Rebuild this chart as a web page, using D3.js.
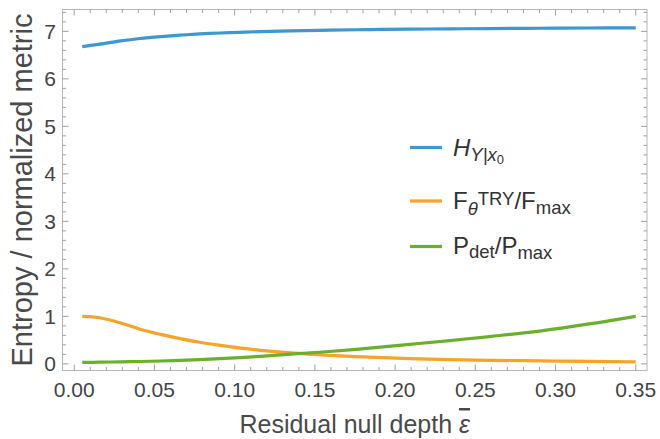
<!DOCTYPE html>
<html>
<head>
<meta charset="utf-8">
<script src="https://cdn.jsdelivr.net/npm/d3@7"></script>
<style>
  body { margin: 0; background: #fff; }
  svg text { font-family: "Liberation Sans", Arial, sans-serif; }
</style>
</head>
<body>
<svg id="chart" width="660" height="439"></svg>
<script>
// residual null depth (x)
const eps = [0.005, 0.016, 0.029, 0.041, 0.054, 0.066, 0.078, 0.091, 0.103, 0.116,
  0.135, 0.159, 0.184, 0.209, 0.234, 0.259, 0.29, 0.321, 0.35];
const entropy = [6.68, 6.73, 6.80, 6.85, 6.89, 6.92, 6.945, 6.965, 6.98, 6.995,
  7.01, 7.025, 7.037, 7.046, 7.053, 7.059, 7.065, 7.07, 7.075];
const fisherRatio = [1.0, 0.97, 0.86, 0.73, 0.62, 0.53, 0.455, 0.39, 0.335, 0.285,
  0.23, 0.18, 0.14, 0.11, 0.09, 0.075, 0.062, 0.051, 0.043];
const pdetRatio = [0.03, 0.035, 0.043, 0.05, 0.06, 0.074, 0.09, 0.11, 0.132, 0.158,
  0.205, 0.26, 0.33, 0.41, 0.49, 0.575, 0.69, 0.84, 1.0];
const xTicks = [0, 0.05, 0.1, 0.15, 0.2, 0.25, 0.3, 0.35];
const yTicks = [0, 1, 2, 3, 4, 5, 6, 7];

const width = 660, height = 439;
const margin = { top: 9.5, right: 13, bottom: 68.5, left: 62.5 };
const colors = { blue: '#3d97d1', orange: '#f6a42a', green: '#6bb02d' };

const svg = d3.select('#chart');

const x = d3.scaleLinear()
  .domain([-0.0073, 0.357])
  .range([margin.left, width - margin.right]);
const y = d3.scaleLinear()
  .domain([-0.14, 7.46])
  .range([height - margin.bottom, margin.top]);

const tickCol = '#a0a0a0';
const x0 = margin.left, x1 = width - margin.right;
const y0 = height - margin.bottom, y1 = margin.top;

// minor tick values
const xMinor = d3.range(0, 0.3501, 0.01).filter(v => Math.abs(v * 20 - Math.round(v * 20)) > 1e-6);
const yMinor = d3.range(0, 7.41, 0.2).filter(v => Math.abs(v - Math.round(v)) > 1e-6);

const axes = svg.append('g');
// frame
axes.append('rect')
  .attr('x', x0).attr('y', y1)
  .attr('width', x1 - x0).attr('height', y0 - y1)
  .attr('fill', 'none').attr('stroke', '#b8b8b8').attr('stroke-width', 1);

const tk = axes.append('g').attr('stroke', tickCol).attr('stroke-width', 1);
function xtick(v, len) {
  tk.append('line').attr('x1', x(v)).attr('x2', x(v)).attr('y1', y0).attr('y2', y0 - len);
  tk.append('line').attr('x1', x(v)).attr('x2', x(v)).attr('y1', y1).attr('y2', y1 + len);
}
function ytick(v, len) {
  tk.append('line').attr('y1', y(v)).attr('y2', y(v)).attr('x1', x0).attr('x2', x0 + len);
  tk.append('line').attr('y1', y(v)).attr('y2', y(v)).attr('x1', x1).attr('x2', x1 - len);
}
xTicks.forEach(v => xtick(v, 6));
xMinor.forEach(v => xtick(v, 3.5));
yTicks.forEach(v => ytick(v, 6));
yMinor.forEach(v => ytick(v, 3.5));

// tick labels
axes.append('g').selectAll('text').data(xTicks).join('text')
  .attr('x', d => x(d)).attr('y', 397)
  .attr('text-anchor', 'middle')
  .attr('font-size', 21).attr('fill', '#444')
  .text(d => d3.format('.2f')(d));
axes.append('g').selectAll('text').data(yTicks).join('text')
  .attr('x', 56).attr('y', d => y(d) + 7.5)
  .attr('text-anchor', 'end')
  .attr('font-size', 21).attr('fill', '#444')
  .text(d => d);

// axis titles
const xl = svg.append('text')
  .attr('x', (x0 + x1) / 2).attr('y', 433)
  .attr('text-anchor', 'middle')
  .attr('font-size', 25).attr('fill', '#4a4a4a');
xl.append('tspan').text('Residual null depth ');
xl.append('tspan').attr('font-style', 'italic').attr('text-decoration', 'overline').text('ε');

svg.append('text')
  .attr('transform', `translate(32,${(y0 + y1) / 2}) rotate(-90)`)
  .attr('text-anchor', 'middle')
  .attr('font-size', 29).attr('fill', '#4a4a4a')
  .text('Entropy / normalized metric');

// lines
const line = d3.line()
  .x(d => x(d[0]))
  .y(d => y(d[1]))
  .curve(d3.curveCatmullRom.alpha(0.5));

const series = [
  { vals: entropy, color: colors.blue },
  { vals: fisherRatio, color: colors.orange },
  { vals: pdetRatio, color: colors.green },
];
svg.append('g').selectAll('path').data(series).join('path')
  .attr('d', s => line(eps.map((e, i) => [e, s.vals[i]])))
  .attr('fill', 'none')
  .attr('stroke', s => s.color)
  .attr('stroke-width', 3.2);

// legend
const lg = svg.append('g');
const rows = [147.5, 201, 246.5];
rows.forEach((ry, i) => {
  lg.append('line')
    .attr('x1', 410).attr('x2', 442).attr('y1', ry).attr('y2', ry)
    .attr('stroke', series[i].color).attr('stroke-width', 3.2);
});
const fs = 24, sub = 18.5;

const t1 = lg.append('text').attr('x', 453).attr('y', rows[0] + 8).attr('font-size', fs).attr('fill', '#333');
t1.append('tspan').attr('font-style', 'italic').text('H');
t1.append('tspan').attr('font-size', sub).attr('font-style', 'italic').attr('dy', 5).text('Y|x');
t1.append('tspan').attr('font-size', 13).attr('dy', 3).text('0');

const t2 = lg.append('text').attr('x', 453).attr('y', rows[1] + 7.5).attr('font-size', fs).attr('fill', '#333');
t2.append('tspan').text('F');
t2.append('tspan').attr('font-size', sub).attr('font-style', 'italic').attr('dy', 6).text('θ');
t2.append('tspan').attr('font-size', sub).attr('dy', -10).text('TRY');
t2.append('tspan').attr('dy', 4).text('/F');
t2.append('tspan').attr('font-size', sub).attr('dy', 5).text('max');

const t3 = lg.append('text').attr('x', 453).attr('y', rows[2] + 7).attr('font-size', fs).attr('fill', '#333');
t3.append('tspan').text('P');
t3.append('tspan').attr('font-size', sub).attr('dy', 4).text('det');
t3.append('tspan').attr('dy', -4).text('/P');
t3.append('tspan').attr('font-size', sub).attr('dy', 5).text('max');
</script>
</body>
</html>
